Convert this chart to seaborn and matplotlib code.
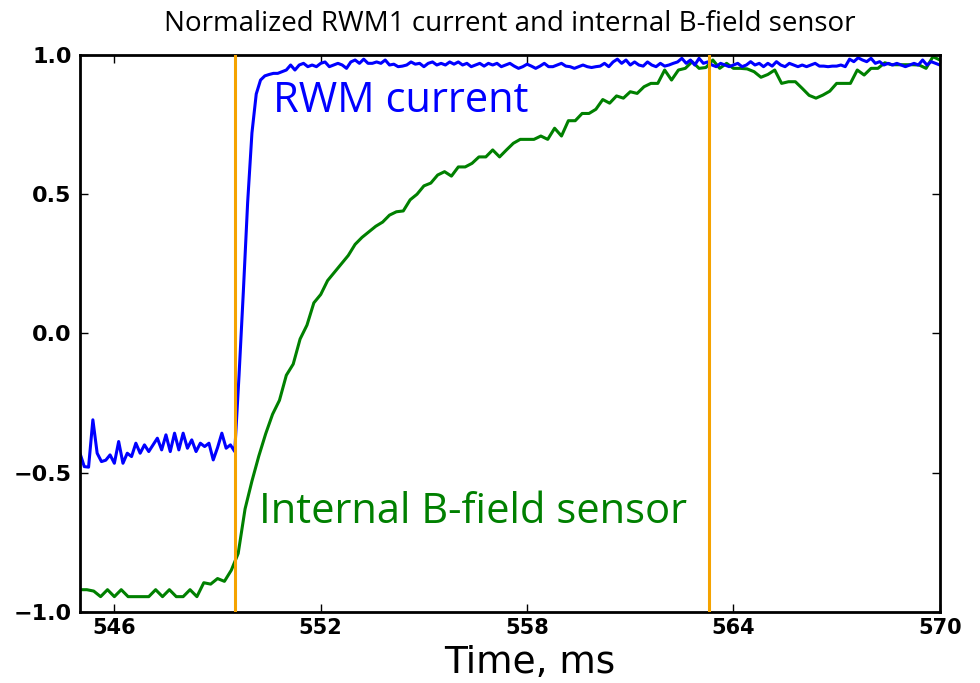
"""Normalized RWM1 current and internal B-field sensor traces."""
import numpy as np
import matplotlib
matplotlib.use('Agg')
import matplotlib.pyplot as plt
import pandas as pd
import seaborn as sns

# RWM coil current, sampled every 0.125 ms from 545 ms
rwm_start, rwm_step = 545.0, 0.125
rwm_current = [
    -0.43, -0.478, -0.48, -0.31, -0.43, -0.46, -0.455, -0.436,
    -0.466, -0.388, -0.466, -0.43, -0.442, -0.394, -0.43, -0.40,
    -0.424, -0.40, -0.376, -0.418, -0.364, -0.424, -0.358, -0.418,
    -0.358, -0.412, -0.382, -0.424, -0.394, -0.406, -0.394, -0.454,
    -0.41, -0.358, -0.412, -0.40, -0.424, -0.15, 0.15, 0.47,
    0.72, 0.86, 0.91, 0.925, 0.93, 0.934, 0.934, 0.94,
    0.946, 0.964, 0.946, 0.964, 0.970, 0.958, 0.964, 0.958,
    0.970, 0.975, 0.958, 0.964, 0.970, 0.964, 0.952, 0.975,
    0.982, 0.970, 0.985, 0.970, 0.970, 0.975, 0.970, 0.982,
    0.964, 0.967, 0.958, 0.960, 0.964, 0.975, 0.967, 0.970,
    0.958, 0.970, 0.975, 0.964, 0.970, 0.964, 0.975, 0.967,
    0.975, 0.964, 0.970, 0.958, 0.964, 0.970, 0.960, 0.970,
    0.964, 0.970, 0.958, 0.964, 0.970, 0.960, 0.952, 0.958,
    0.967, 0.960, 0.952, 0.960, 0.970, 0.958, 0.958, 0.964,
    0.970, 0.960, 0.958, 0.952, 0.958, 0.964, 0.958, 0.955,
    0.958, 0.960, 0.970, 0.958, 0.975, 0.985, 0.970, 0.982,
    0.964, 0.975, 0.964, 0.960, 0.975, 0.964, 0.958, 0.970,
    0.960, 0.964, 0.970, 0.975, 0.988, 0.970, 0.982, 0.964,
    0.988, 0.970, 0.975, 0.964, 0.958, 0.970, 0.964, 0.958,
    0.964, 0.970, 0.958, 0.964, 0.976, 0.964, 0.970, 0.958,
    0.970, 0.960, 0.976, 0.964, 0.958, 0.970, 0.964, 0.958,
    0.964, 0.958, 0.964, 0.970, 0.960, 0.960, 0.958, 0.960,
    0.960, 0.964, 0.958, 0.985, 0.976, 0.990, 0.982, 0.976,
    0.988, 0.970, 0.976, 0.964, 0.970, 0.964, 0.970, 0.964,
    0.958, 0.964, 0.970, 0.964, 0.982, 0.964, 0.976, 0.970,
    0.964,
]

# internal B-field sensor, sampled every 0.2 ms from 545 ms
bfield_start, bfield_step = 545.0, 0.2
bfield_sensor = [
    -0.92, -0.92, -0.925, -0.945, -0.92, -0.945, -0.92, -0.945, -0.945, -0.945,
    -0.945, -0.92, -0.945, -0.92, -0.945, -0.945, -0.92, -0.945, -0.895, -0.90,
    -0.88, -0.89, -0.85, -0.79, -0.63, -0.53, -0.44, -0.36, -0.29, -0.24,
    -0.15, -0.11, -0.02, 0.03, 0.11, 0.14, 0.19, 0.22, 0.25, 0.28,
    0.32, 0.345, 0.365, 0.385, 0.40, 0.425, 0.437, 0.44, 0.48, 0.50,
    0.53, 0.54, 0.569, 0.581, 0.565, 0.598, 0.598, 0.611, 0.634, 0.634,
    0.659, 0.634, 0.659, 0.683, 0.697, 0.697, 0.697, 0.709, 0.697, 0.737,
    0.709, 0.764, 0.764, 0.79, 0.79, 0.805, 0.84, 0.827, 0.853, 0.845,
    0.868, 0.862, 0.886, 0.898, 0.898, 0.946, 0.91, 0.946, 0.952, 0.976,
    0.952, 0.955, 0.982, 0.952, 0.97, 0.952, 0.952, 0.95, 0.94, 0.92,
    0.93, 0.946, 0.898, 0.904, 0.904, 0.88, 0.855, 0.845, 0.856, 0.87,
    0.898, 0.898, 0.898, 0.946, 0.928, 0.952, 0.952, 0.972, 0.965, 0.965,
    0.965, 0.965, 0.964, 0.952, 0.994, 0.982,
]

# times of the two orange markers
marker_times = [549.5, 563.3]
x_ticks = [546, 552, 558, 564, 570]
y_ticks = [-1.0, -0.5, 0.0, 0.5, 1.0]

rwm_df = pd.DataFrame({
    'time': rwm_start + rwm_step * np.arange(len(rwm_current)),
    'value': rwm_current,
})
bfield_df = pd.DataFrame({
    'time': bfield_start + bfield_step * np.arange(len(bfield_sensor)),
    'value': bfield_sensor,
})

sns.set_style('ticks')
fig = plt.figure(figsize=(9.8, 6.83), dpi=100)
ax = fig.add_axes([0.0816, 0.104, 0.8774, 0.8155])

sns.lineplot(data=bfield_df, x='time', y='value', color='#008000',
             linewidth=2.2, ax=ax)
sns.lineplot(data=rwm_df, x='time', y='value', color='#0000ff',
             linewidth=2.2, ax=ax)
for t in marker_times:
    ax.axvline(t, color='#f5a300', linewidth=2.2, zorder=5)

ax.set_xlim(545, 570)
ax.set_ylim(-1.0, 1.0)
ax.set_xticks(x_ticks)
ax.set_yticks(y_ticks)
ax.set_xticklabels([str(v) for v in x_ticks])
ax.set_yticklabels([f'{v:.1f}'.replace('-', '\u2212') for v in y_ticks])
ax.tick_params(direction='in', top=True, right=True, length=6, width=1,
               colors='black')
ax.tick_params(axis='x', pad=4, labelsize=15)
ax.tick_params(axis='y', pad=6, labelsize=16)
for lbl in ax.get_xticklabels() + ax.get_yticklabels():
    lbl.set_fontweight('bold')

# thick black frame
for s in ['left', 'right', 'top', 'bottom']:
    ax.spines[s].set_visible(True)
    ax.spines[s].set_linewidth(2)
    ax.spines[s].set_color('black')

ax.set_ylabel('')
ax.set_xlabel('Time, ms', fontsize=27, color='black', va='bottom')
ax.xaxis.set_label_coords(0.523, -0.124)
ax.set_title('Normalized RWM1 current and internal B-field sensor',
             fontsize=20, family='Open Sans', color='black', pad=17)

ax.text(550.6, 0.835, 'RWM current', color='#0000ff', fontsize=30,
        family='Open Sans', va='center', ha='left')
ax.text(550.2, -0.64, 'Internal B-field sensor', color='#008000',
        fontsize=30, family='Open Sans', va='center', ha='left')

plt.savefig('out.png', dpi=100)
plt.close()
